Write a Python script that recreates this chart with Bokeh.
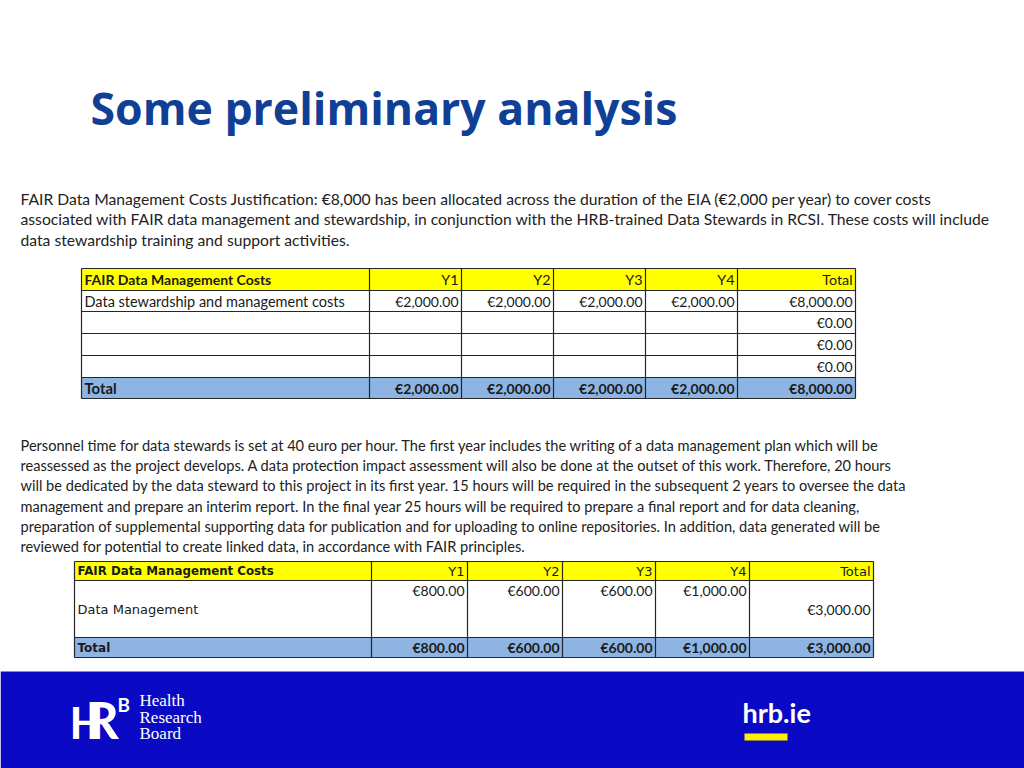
from bokeh.plotting import figure
from bokeh.models import Range1d
from bokeh.core.properties import value
from bokeh.embed import file_html
from bokeh.resources import INLINE

# ---------------- data ----------------
title = "Some preliminary analysis"
para1 = [
    "FAIR Data Management Costs Justification: €8,000 has been allocated across the duration of the EIA (€2,000 per year) to cover costs",
    "associated with FAIR data management and stewardship, in conjunction with the HRB-trained Data Stewards in RCSI. These costs will include",
    "data stewardship training and support activities.",
]
para2 = [
    "Personnel time for data stewards is set at 40 euro per hour. The first year includes the writing of a data management plan which will be",
    "reassessed as the project develops. A data protection impact assessment will also be done at the outset of this work. Therefore, 20 hours",
    "will be dedicated by the data steward to this project in its first year. 15 hours will be required in the subsequent 2 years to oversee the data",
    "management and prepare an interim report. In the final year 25 hours will be required to prepare a final report and for data cleaning,",
    "preparation of supplemental supporting data for publication and for uploading to online repositories. In addition, data generated will be",
    "reviewed for potential to create linked data, in accordance with FAIR principles.",
]
header = ["FAIR Data Management Costs", "Y1", "Y2", "Y3", "Y4", "Total"]

t1_labels = ["Data stewardship and management costs", "", "", ""]
t1_y1 = [2000, None, None, None]
t1_y2 = [2000, None, None, None]
t1_y3 = [2000, None, None, None]
t1_y4 = [2000, None, None, None]
t1_total = [8000, 0, 0, 0]
t1_col_totals = [2000, 2000, 2000, 2000, 8000]

t2_labels = ["Data Management"]
t2_y1 = [800]
t2_y2 = [600]
t2_y3 = [600]
t2_y4 = [1000]
t2_total = [3000]
t2_col_totals = [800, 600, 600, 1000, 3000]

def eur(v):
    return "" if v is None else "€{:,.2f}".format(v)

# ---------------- figure ----------------
W, H = 1024, 768
p = figure(width=W, height=H, output_backend="svg", toolbar_location=None,
           x_range=Range1d(0, W), y_range=Range1d(H, 0),
           min_border=0, outline_line_color=None)
p.axis.visible = False
p.grid.visible = False
p.background_fill_color = "white"
p.border_fill_color = "white"

BODY = value("Lato")
VERD = value("DejaVu Sans")
INK = "#1a1a1a"

# title
p.text(x=[90], y=[107], text=[title], text_font=value("Open Sans"), text_font_style="bold",
       text_font_size="44.6px", text_color="#103f96", text_baseline="middle")

# paragraph 1
p.text(x=[20] * len(para1), y=[198 + 20.5 * i for i in range(len(para1))], text=para1,
       text_font=BODY, text_font_size="15.7px", text_color="#222222", text_baseline="middle")
# paragraph 2
p.text(x=[20] * len(para2), y=[445 + 20.2 * i for i in range(len(para2))], text=para2,
       text_font=BODY, text_font_size="14.6px", text_color="#222222", text_baseline="middle")

YELLOW = "#ffff00"
BLUE = "#8db4e2"
LINE = "#262626"

def cmid(ys, i):
    return (ys[i] + ys[i + 1]) / 2

# ---------------- table 1 ----------------
t1x = [81, 369, 461, 553, 645, 737, 855]
t1y = [268, 290, 311, 333, 355, 377, 398]
p.quad(left=[t1x[0]] * 2, right=[t1x[-1]] * 2, top=[t1y[0], t1y[-2]], bottom=[t1y[1], t1y[-1]],
       fill_color=[YELLOW, BLUE], line_color=None)
p.segment(x0=[t1x[0]] * len(t1y), x1=[t1x[-1]] * len(t1y), y0=t1y, y1=t1y,
          line_color=LINE, line_width=1.2)
p.segment(x0=t1x, x1=t1x, y0=[t1y[0]] * len(t1x), y1=[t1y[-1]] * len(t1x),
          line_color=LINE, line_width=1.2)

p.text(x=[t1x[0] + 3], y=[cmid(t1y, 0)], text=[header[0]], text_font=BODY, text_font_style="bold",
       text_font_size="14px", text_color=INK, text_baseline="middle")
p.text(x=[t1x[i + 1] - 3 for i in range(1, 6)], y=[cmid(t1y, 0)] * 5, text=header[1:],
       text_font=BODY, text_font_size="14.3px", text_color=INK, text_baseline="middle",
       text_align="right")
rx, ry, rt = [], [], []
for r in range(len(t1_labels)):
    vals = [t1_y1[r], t1_y2[r], t1_y3[r], t1_y4[r], t1_total[r]]
    for c, v in enumerate(vals):
        rx.append(t1x[c + 2] - 3); ry.append(cmid(t1y, r + 1)); rt.append(eur(v))
p.text(x=rx, y=ry, text=rt, text_font=BODY, text_font_size="14px", text_color=INK,
       text_baseline="middle", text_align="right")
p.text(x=[t1x[0] + 3] * len(t1_labels), y=[cmid(t1y, r + 1) for r in range(len(t1_labels))],
       text=t1_labels, text_font=BODY, text_font_size="14.5px", text_color=INK,
       text_baseline="middle")
p.text(x=[t1x[0] + 3], y=[cmid(t1y, 5)], text=["Total"], text_font=BODY, text_font_style="bold",
       text_font_size="14.8px", text_color=INK, text_baseline="middle")
p.text(x=[t1x[c + 2] - 3 for c in range(5)], y=[cmid(t1y, 5)] * 5, text=[eur(v) for v in t1_col_totals],
       text_font=BODY, text_font_style="bold", text_font_size="14px", text_color=INK,
       text_baseline="middle", text_align="right")

# ---------------- table 2 ----------------
t2x = [74, 371, 467, 562, 655, 749, 873]
t2y = [561, 580, 637, 657]
p.quad(left=[t2x[0]] * 2, right=[t2x[-1]] * 2, top=[t2y[0], t2y[2]], bottom=[t2y[1], t2y[3]],
       fill_color=[YELLOW, BLUE], line_color=None)
p.segment(x0=[t2x[0]] * len(t2y), x1=[t2x[-1]] * len(t2y), y0=t2y, y1=t2y,
          line_color=LINE, line_width=1.2)
p.segment(x0=t2x, x1=t2x, y0=[t2y[0]] * len(t2x), y1=[t2y[-1]] * len(t2x),
          line_color=LINE, line_width=1.2)

p.text(x=[t2x[0] + 3], y=[cmid(t2y, 0)], text=[header[0]], text_font=VERD, text_font_style="bold",
       text_font_size="11.8px", text_color=INK, text_baseline="middle")
p.text(x=[t2x[i + 1] - 3 for i in range(1, 6)], y=[cmid(t2y, 0)] * 5, text=header[1:],
       text_font=VERD, text_font_size="13px", text_color=INK, text_baseline="middle",
       text_align="right")
p.text(x=[t2x[0] + 3], y=[cmid(t2y, 1)], text=t2_labels, text_font=VERD, text_font_size="13px",
       text_color=INK, text_baseline="middle")
p.text(x=[t2x[c + 2] - 3 for c in range(4)], y=[t2y[1] + 10] * 4,
       text=[eur(t2_y1[0]), eur(t2_y2[0]), eur(t2_y3[0]), eur(t2_y4[0])],
       text_font=BODY, text_font_size="14px", text_color=INK, text_baseline="middle",
       text_align="right")
p.text(x=[t2x[6] - 3], y=[cmid(t2y, 1)], text=[eur(t2_total[0])], text_font=BODY,
       text_font_size="14px", text_color=INK, text_baseline="middle", text_align="right")
p.text(x=[t2x[0] + 3], y=[cmid(t2y, 2)], text=["Total"], text_font=VERD, text_font_style="bold",
       text_font_size="12px", text_color=INK, text_baseline="middle")
p.text(x=[t2x[c + 2] - 3 for c in range(5)], y=[cmid(t2y, 2)] * 5, text=[eur(v) for v in t2_col_totals],
       text_font=BODY, text_font_style="bold", text_font_size="14px", text_color=INK,
       text_baseline="middle", text_align="right")

# ---------------- footer ----------------
p.quad(left=[0], right=[W], top=[671], bottom=[H], fill_color="#0a0ac4", line_color=None)
p.text(x=[69], y=[721], text=["H"], text_font=BODY, text_font_style="bold", text_font_size="44px",
       text_color="white", text_baseline="middle")
p.text(x=[85], y=[718], text=["R"], text_font=BODY, text_font_style="bold", text_font_size="52px",
       text_color="white", text_baseline="middle")
p.text(x=[117], y=[704], text=["B"], text_font=BODY, text_font_style="bold", text_font_size="19px",
       text_color="white", text_baseline="middle")
p.text(x=[139] * 3, y=[700, 717, 733], text=["Health", "Research", "Board"],
       text_font=value("Liberation Serif"), text_font_size="17px", text_color="white",
       text_baseline="middle")
p.text(x=[742], y=[712], text=["hrb.ie"], text_font=BODY, text_font_style="bold",
       text_font_size="27px", text_color="white", text_baseline="middle")
p.quad(left=[744], right=[787], top=[733], bottom=[740], fill_color="#ffee00", line_color=None)

open("out.html", "w").write(file_html(p, INLINE))
